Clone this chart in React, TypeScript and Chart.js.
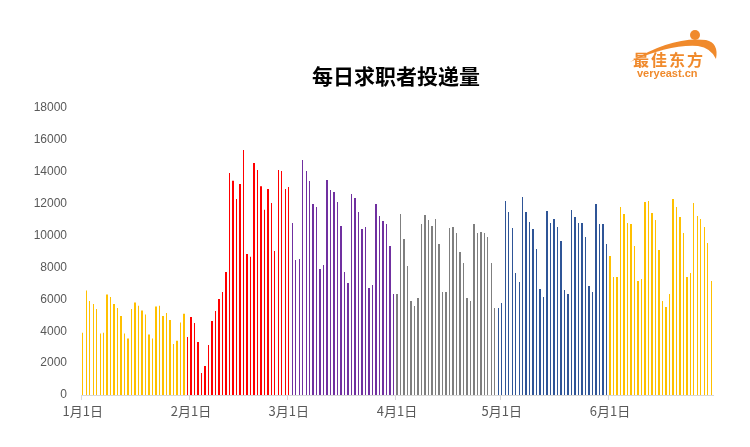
import React, { useEffect, useRef } from "react";
import { Chart, registerables } from "chart.js";

Chart.register(...registerables);

const monthLengths = [31, 28, 31, 30, 31, 30];

// Values, grouped by bar colour (in order)
const yellowStartValues = [3900, 6550, 5900, 5700, 5400, 3850, 3900, 6300, 6150, 5700, 5450, 4950, 3850, 3550, 5400, 5800, 5600, 5300, 5050, 3800, 3550, 5550, 5600, 4950, 5150, 4700, 3200, 3400, 4550, 5100];
const redValues = [3640, 4890, 4510, 3320, 1380, 1820, 3140, 4640, 5270, 6020, 6460, 7710, 13920, 13440, 12290, 13230, 15360, 8840, 8670, 14550, 14110, 13100, 11620, 12920, 12040, 9030, 14110, 14050, 12920, 13040];
const purpleValues = [10780, 8470, 8530, 14740, 14050, 13420, 11980, 11790, 7900, 8150, 13480, 12850, 12730, 12100, 10600, 7710, 7020, 12600, 12350, 11470, 10410, 10530, 6710, 6900, 11980, 11220, 10910, 10720, 9340, 6330];
const grayValues = [6330, 11350, 9780, 8090, 5890, 5580, 6080, 10720, 11290, 10970, 10600, 11040, 9470, 6460, 6460, 10470, 10530, 10160, 8970, 8280, 6080, 5890, 10720, 10160, 10220, 10160, 9910, 8280, 5460];
const blueValues = [5460, 5770, 12160, 11470, 10470, 7650, 7090, 12420, 11470, 10850, 10410, 9150, 6650, 6150, 11540, 10780, 11040, 10530, 9660, 6580, 6330, 11600, 11160, 10780, 10780, 9910, 6830, 6460, 11980, 10720, 10720, 9470];
const yellowEndValues = [8720, 7400, 7400, 11790, 11350, 10780, 10720, 9340, 7150, 7270, 12100, 12160, 11410, 10970, 9090, 5890, 5520, 6330, 12290, 11790, 11160, 10160, 7400, 7650, 12040, 11220, 11040, 10530, 9530, 7150];

const segments = [
  { values: yellowStartValues, color: "#FFC000" },
  { values: redValues, color: "#FF0000" },
  { values: purpleValues, color: "#7030A0" },
  { values: grayValues, color: "#7F7F7F" },
  { values: blueValues, color: "#2F5597" },
  { values: yellowEndValues, color: "#FFC000" },
];

const categories: string[] = [];
monthLengths.forEach((len, m) => {
  for (let d = 1; d <= len; d++) categories.push(`${m + 1}月${d}日`);
});

const values: number[] = [];
const colors: string[] = [];
segments.forEach((s) => {
  s.values.forEach((v) => {
    values.push(v);
    colors.push(s.color);
  });
});

const isMonthStart = (i: any) => {
  if (typeof i !== "number" || i < 0) return false;
  if (i >= categories.length) return true;
  const c = categories[i];
  return typeof c === "string" && c.endsWith("月1日");
};

// snap thin bar edges to the pixel grid so they render crisp like the reference
const snapBars = {
  id: "snapBars",
  afterDatasetsUpdate(chart: any) {
    const meta = chart.getDatasetMeta(0);
    meta.data.forEach((el: any) => {
      const half = el.width / 2;
      const left = Math.round(el.x - half);
      let right = Math.round(el.x + half);
      if (right <= left) right = left + 1;
      el.x = (left + right) / 2;
      el.width = right - left;
      el.base = Math.round(el.base);
    });
  },
};

export default function App() {
  const ref = useRef<HTMLCanvasElement | null>(null);
  useEffect(() => {
    document.body.style.margin = "0";
    const chart = new Chart(ref.current!, {
      type: "bar",
      data: {
        labels: categories,
        datasets: [
          {
            data: values,
            backgroundColor: colors,
            barThickness: 1.4,
            inflateAmount: 0,
            borderWidth: 0,
          },
        ],
      },
      plugins: [snapBars],
      options: {
        responsive: false,
        animation: false,
        layout: { padding: { top: 108, left: 33, right: 37, bottom: 0 } },
        plugins: { legend: { display: false }, tooltip: { enabled: false }, title: { display: false } },
        scales: {
          x: {
            offset: true,
            afterFit: (s: any) => {
              s.height = 52;
            },
            grid: {
              display: true,
              offset: true,
              drawOnChartArea: false,
              drawTicks: true,
              tickLength: 5,
              color: (ctx: any) => (isMonthStart(ctx.index) ? "#D9D9D9" : "rgba(0,0,0,0)"),
            },
            border: { display: true, color: "#D9D9D9" },
            ticks: {
              autoSkip: false,
              maxRotation: 0,
              minRotation: 0,
              padding: 3,
              color: "#595959",
              font: { family: "'Noto Sans CJK SC'", size: 13 },
              callback: (_v: any, i: number) => (isMonthStart(i) && i < categories.length ? categories[i] : ""),
            },
          },
          y: {
            min: 0,
            max: 18000,
            afterFit: (s: any) => {
              s.width = 48;
            },
            grid: { display: false, drawTicks: false },
            border: { display: false },
            ticks: {
              stepSize: 2000,
              padding: 14,
              color: "#595959",
              font: { family: "'Liberation Sans'", size: 12 },
              callback: (v: any) => String(v),
            },
          },
        },
      },
    });
    return () => chart.destroy();
  }, []);

  const orange = "#F08A2C";
  return (
    <div style={{ position: "fixed", left: 0, top: 0, width: 750, height: 447, background: "#fff" }}>
      <canvas ref={ref} width={750} height={447} style={{ position: "absolute", left: 0, top: 0 }} />
      <div
        style={{
          position: "absolute",
          left: 312,
          top: 63,
          fontFamily: "'Noto Sans CJK SC'",
          fontWeight: 700,
          fontSize: 21,
          lineHeight: "24px",
          color: "#000",
          whiteSpace: "nowrap",
        }}
      >
        每日求职者投递量
      </div>
      <svg width={150} height={70} style={{ position: "absolute", left: 600, top: 20 }}>
        <path d="M 30 42 Q 72 16 106 20 Q 119 23 116 39 Q 111 28 98 26 Q 70 24 30 42 Z" fill={orange} />
        <circle cx={95} cy={15} r={5} fill={orange} />
        <text x={33} y={46} fill={orange} fontFamily="'Noto Sans CJK SC'" fontWeight={700} fontSize={16} letterSpacing={2}>
          最佳东方
        </text>
        <text x={37} y={57} fill={orange} fontFamily="'Liberation Sans'" fontWeight={700} fontSize={11}>
          veryeast.cn
        </text>
      </svg>
    </div>
  );
}
